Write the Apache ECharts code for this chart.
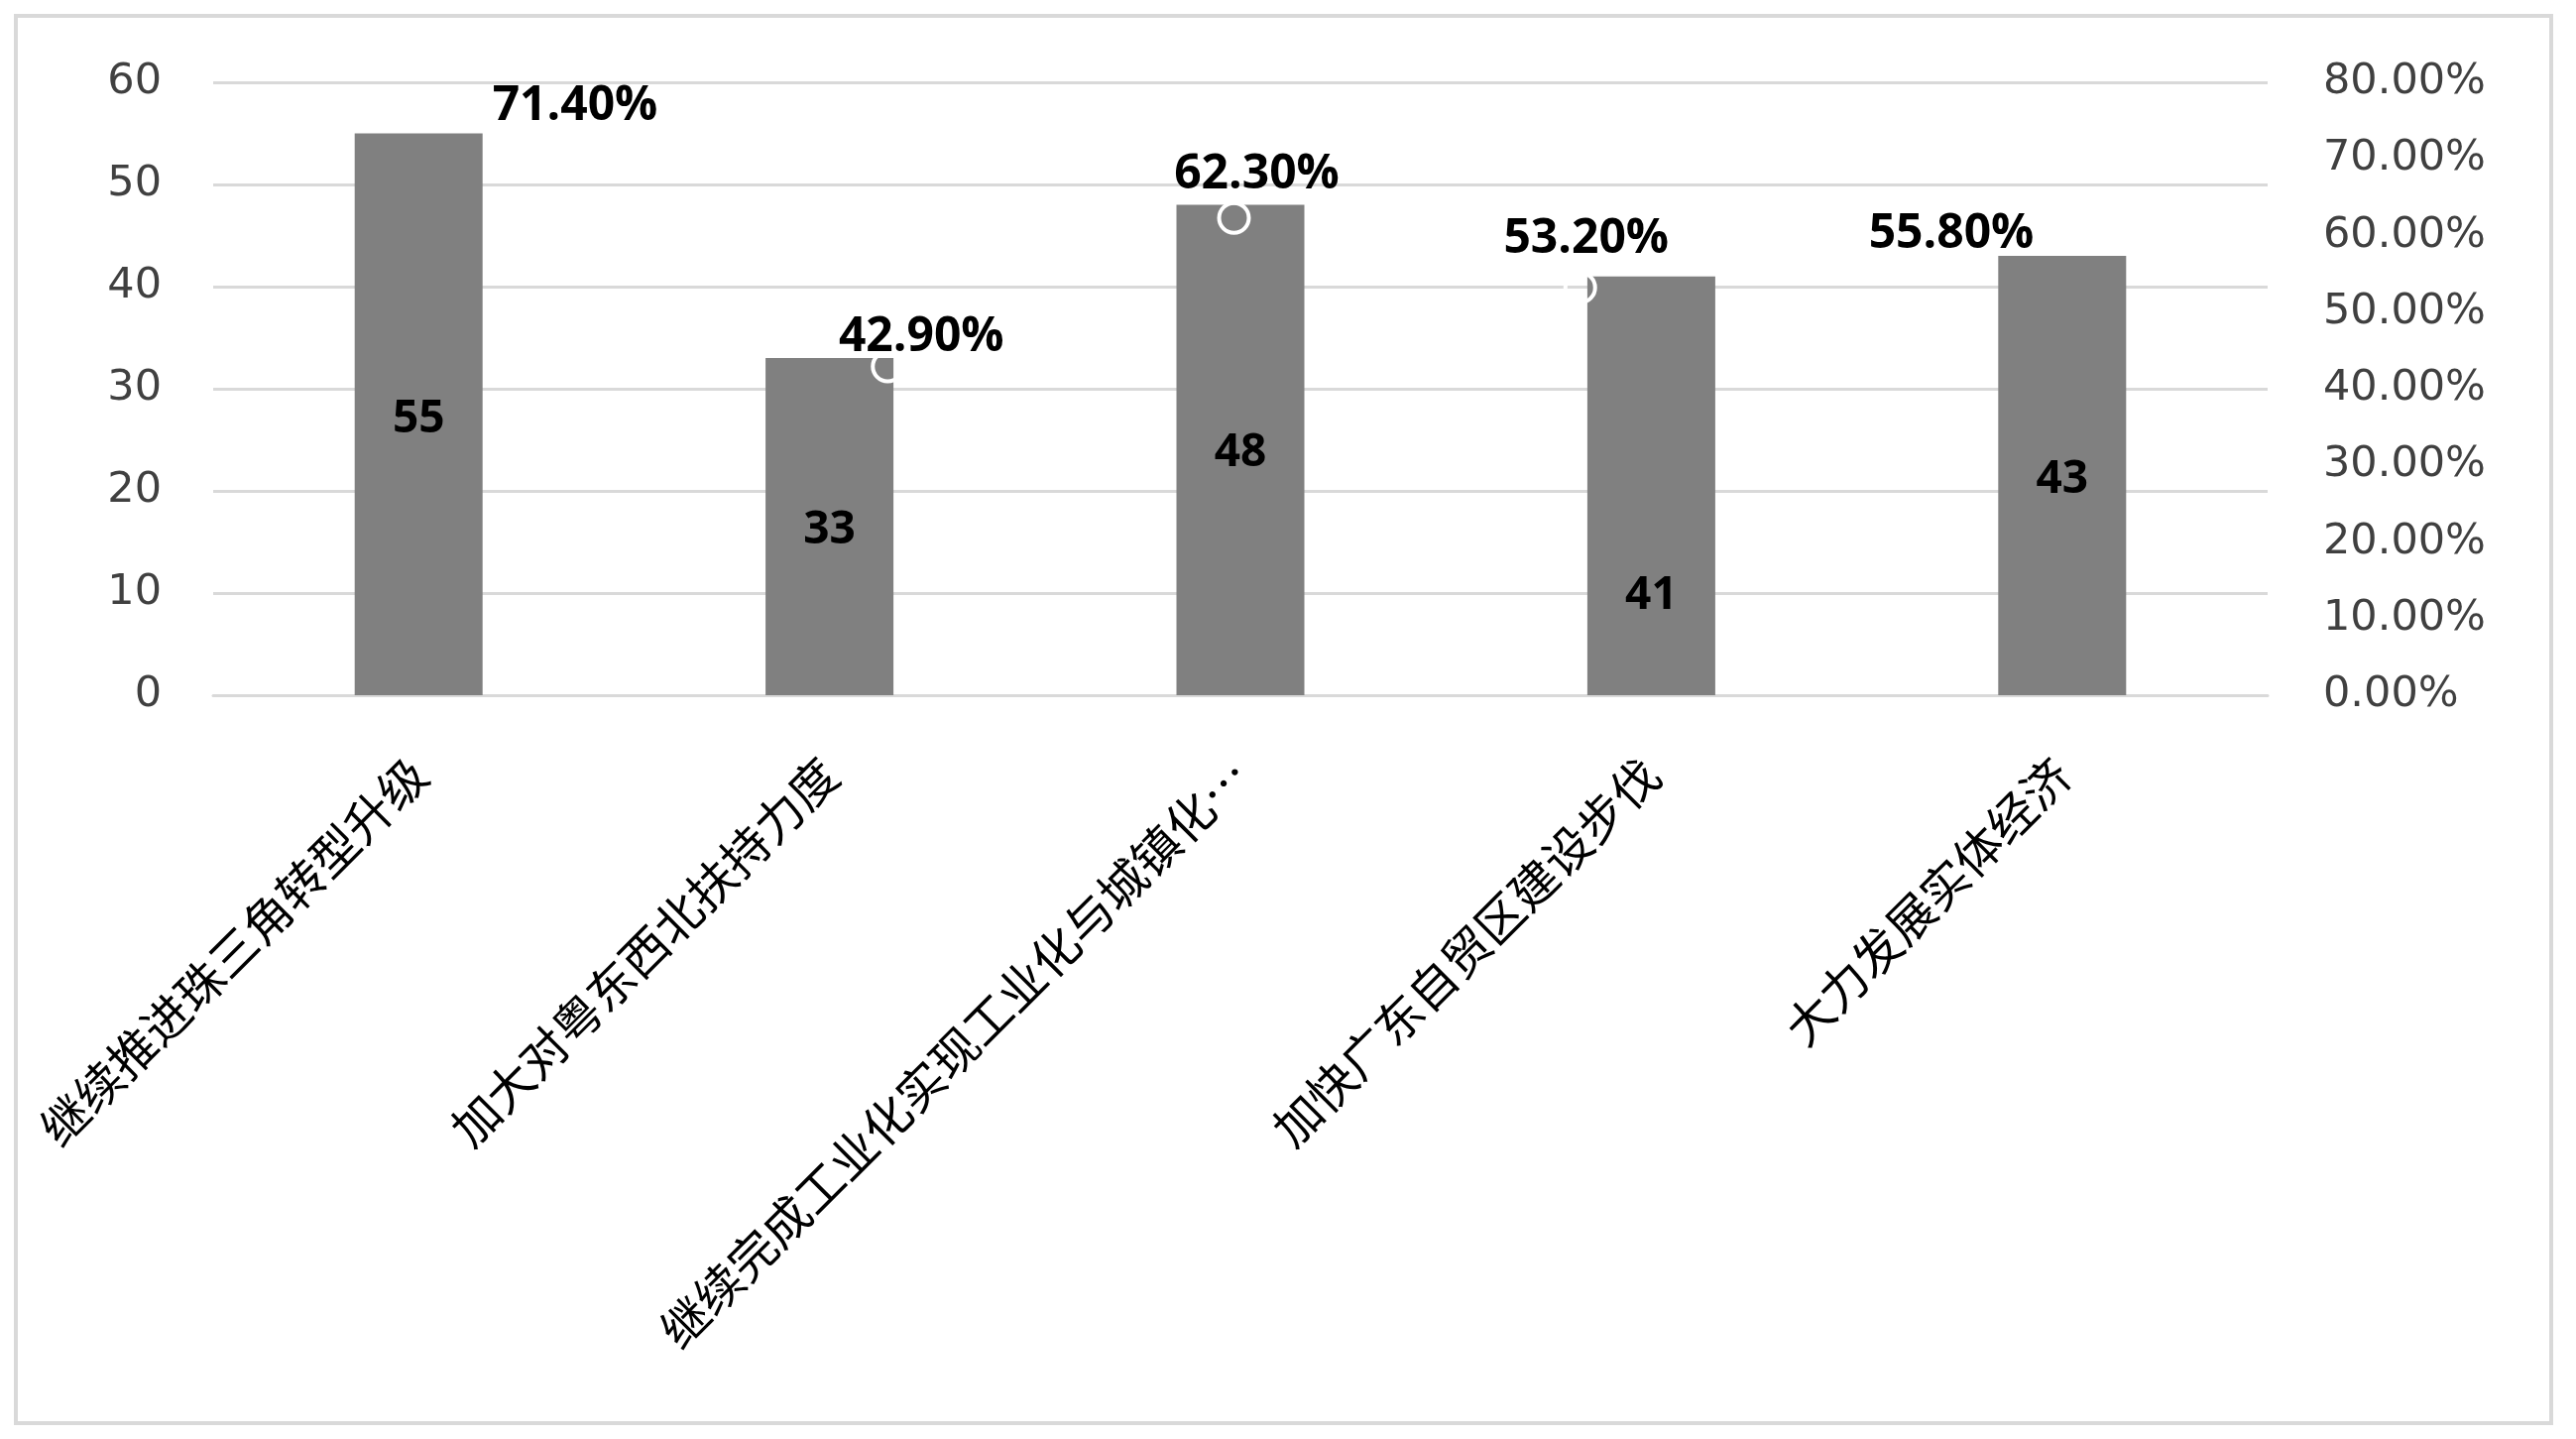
<!DOCTYPE html>
<html>
<head>
<meta charset="utf-8">
<script src="https://cdn.jsdelivr.net/npm/echarts@6/dist/echarts.min.js"></script>
<style>
html,body{margin:0;padding:0;background:#fff;}
#c{width:2598px;height:1451px;}
</style>
</head>
<body>
<div id="c"></div>
<script>
var categories = ['继续推进珠三角转型升级', '加大对粤东西北扶持力度', '继续完成工业化实现工业化与城镇化…', '加快广东自贸区建设步伐', '大力发展实体经济'];
var counts = [55, 33, 48, 41, 43];
var shares = [0.714, 0.429, 0.623, 0.532, 0.558];
var leftTicks = {min: 0, max: 60, interval: 10};
var rightTicks = {min: 0, max: 0.8, interval: 0.1};

// label placement (style, not data)
var barLabelOffsets = [[0, 5], [0, 4], [0, 3], [0, 111], [0, 4]];
var pctLabelOffsets = [[34, -42], [34, -29], [23, -43], [6, -49], [25, -34]];

function pct(v) { return (v * 100).toFixed(2) + '%'; }

var chart = echarts.init(document.getElementById('c'), null, {renderer: 'canvas'});
var axisFont = {fontFamily: 'DejaVu Sans', fontSize: 43, color: '#404040'};

chart.setOption({
  backgroundColor: '#fff',
  animation: false,
  graphic: [{
    type: 'rect', z: 100, silent: true,
    shape: {x: 16, y: 16, width: 2557, height: 1419},
    style: {fill: 'none', stroke: '#d9d9d9', lineWidth: 4}
  }],
  grid: [
    {left: 215, right: 311, top: 83, bottom: 750},
    {left: 546, right: 655, top: 83, bottom: 750}
  ],
  xAxis: [
    {
      type: 'category', gridIndex: 0, data: categories,
      axisLine: {lineStyle: {color: '#d9d9d9', width: 3}},
      axisTick: {show: false},
      axisLabel: {rotate: 45, interval: 0, margin: 72, fontFamily: 'Noto Sans CJK SC', fontSize: 48, color: '#000'}
    },
    {
      type: 'category', gridIndex: 1, data: categories, boundaryGap: false, show: false
    }
  ],
  yAxis: [
    {
      type: 'value', gridIndex: 0, min: leftTicks.min, max: leftTicks.max, interval: leftTicks.interval,
      axisLine: {show: false}, axisTick: {show: false},
      splitLine: {lineStyle: {color: '#d9d9d9', width: 3}},
      axisLabel: Object.assign({margin: 52}, axisFont)
    },
    {
      type: 'value', gridIndex: 0, position: 'right', min: rightTicks.min, max: rightTicks.max, interval: rightTicks.interval,
      axisLine: {show: false}, axisTick: {show: false}, splitLine: {show: false},
      axisLabel: Object.assign({margin: 56, formatter: pct}, axisFont)
    },
    {
      type: 'value', gridIndex: 1, min: rightTicks.min, max: rightTicks.max, show: false, splitLine: {show: false}
    }
  ],
  series: [
    {
      type: 'bar', xAxisIndex: 0, yAxisIndex: 0, barWidth: 129,
      itemStyle: {color: '#808080'},
      data: counts.map(function (v, i) {
        return {value: v, label: {offset: barLabelOffsets[i]}};
      }),
      label: {show: true, position: 'inside', color: '#000', fontFamily: 'Open Sans', fontWeight: 'bold', fontSize: 46}
    },
    {
      type: 'line', xAxisIndex: 1, yAxisIndex: 2, z: 10,
      symbol: 'circle', symbolSize: 30, showSymbol: true,
      lineStyle: {width: 0, opacity: 0},
      itemStyle: {color: 'rgba(0,0,0,0)', borderColor: '#ffffff', borderWidth: 4},
      data: shares.map(function (v, i) {
        return {value: v, label: {offset: pctLabelOffsets[i]}};
      }),
      label: {show: true, position: 'inside', color: '#000', fontFamily: 'Open Sans', fontWeight: 'bold', fontSize: 48,
        formatter: function (p) { return pct(p.value); }}
    }
  ]
});
</script>
</body>
</html>
